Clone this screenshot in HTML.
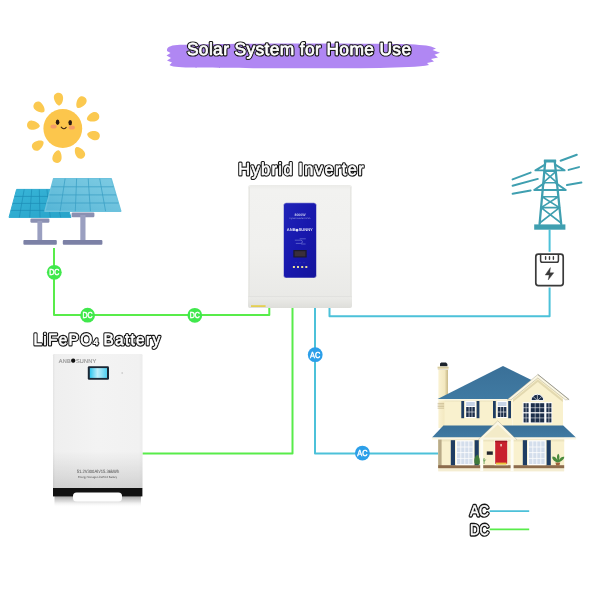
<!DOCTYPE html>
<html lang="en">
<head>
<meta charset="utf-8">
<title>Solar System for Home Use</title>
<style>
html,body{margin:0;padding:0;background:#fff;}
body{width:600px;height:600px;overflow:hidden;position:relative;font-family:"Liberation Sans",sans-serif;}
svg{position:absolute;left:0;top:0;display:block;}
svg text{text-rendering:geometricPrecision;}
.lbl text{font-family:"Liberation Sans",sans-serif;}
.lbl{stroke-linejoin:round;stroke-linecap:round;}
.lbl text,.lbl use{vector-effect:non-scaling-stroke;}
.lbl .o{fill:#161616;stroke:#161616;stroke-width:3px;}
.lbl .i{fill:#fff;stroke:#fff;stroke-width:1px;}
.dc{stroke:#58ec4a;stroke-width:2;fill:none;stroke-linejoin:round;}
.ac{stroke:#4cc1d9;stroke-width:2;fill:none;stroke-linejoin:round;}
.tag{font-family:"Liberation Sans",sans-serif;font-weight:normal;font-size:8.7px;fill:#fff;stroke:#fff;stroke-width:0.45px;text-anchor:middle;}
</style>
</head>
<body>
<svg id="stage" width="600" height="600" viewBox="0 0 600 600">
<rect width="600" height="600" fill="#ffffff"/>
<defs><filter id="nf" x="0" y="0" width="600" height="600" filterUnits="userSpaceOnUse" color-interpolation-filters="sRGB"><feOffset dx="0" dy="0"/></filter></defs>
<g filter="url(#nf)">

<!-- TITLE -->
<g id="title">
<path d="M167 49.5 C167.5 46.5 172 45.2 180 44.8 C230 43.2 330 43 400 44 C415 44.4 426 45.2 431 46.4 L436 48.6 L432.5 50 L440 52.8 L434.5 54.8 L438 57.4 L431 59 L434 61.6 L427 63 L429 65 C420 66.8 400 67.6 380 67.9 C310 68.6 230 68.2 190 67.5 C178 67.2 171 66.8 169.5 65 L172 62.6 L167 60.6 L171 58 L166.5 55.6 L170.5 53 L167 51 Z" fill="#b087f3"/>
<g class="lbl" transform="translate(186.9 55.4) scale(1 1)"><g class="o" style="stroke-width:2.9px"><use href="#t-title"/></g><g class="i" style="stroke-width:0.7px"><text id="t-title" x="0" y="0" font-size="17.4" letter-spacing="0.362">Solar System for Home Use</text></g></g>
</g>
<!-- WIRES -->
<g id="wires">
<path class="dc" d="M54 248 V315 H269.3 V307.6"/>
<path class="dc" d="M292.5 307.6 V453.5 H142.4"/>
<path class="ac" d="M315 307.6 V453.4 H438"/>
<path class="ac" d="M329.5 307.6 V316.3 H549.6 V287.4"/>
<path class="ac" d="M549.6 229.6 V251.8"/>
<circle cx="54.3" cy="272.3" r="7.4" fill="#40e84c"/><text class="tag" x="54.3" y="275.4" textLength="10.2" lengthAdjust="spacingAndGlyphs">DC</text>
<circle cx="87.6" cy="315.2" r="7.4" fill="#40e84c"/><text class="tag" x="87.6" y="318.3" textLength="10.2" lengthAdjust="spacingAndGlyphs">DC</text>
<circle cx="194.8" cy="315.3" r="7.4" fill="#40e84c"/><text class="tag" x="194.8" y="318.4" textLength="10.2" lengthAdjust="spacingAndGlyphs">DC</text>
<circle cx="315.2" cy="354.7" r="7.4" fill="#2c9fe9"/><text class="tag" x="315.2" y="357.8" textLength="10.2" lengthAdjust="spacingAndGlyphs">AC</text>
<circle cx="362.4" cy="453.1" r="7.4" fill="#2c9fe9"/><text class="tag" x="362.4" y="456.2" textLength="10.2" lengthAdjust="spacingAndGlyphs">AC</text>
</g>
<!-- SUN -->
<g id="sun">
<path transform="translate(58.7 99.1) rotate(-98.0)" d="M-6.4 0 C-6.4 -1.8 -2.6 -4.5 1.6 -4.6 C8 -4.7 8 4.7 1.6 4.6 C-2.6 4.5 -6.4 1.8 -6.4 0 Z" fill="#fbc950"/>
<path transform="translate(81.0 102.5) rotate(-55.0)" d="M-6.4 0 C-6.4 -1.8 -2.6 -4.5 1.6 -4.6 C8 -4.7 8 4.7 1.6 4.6 C-2.6 4.5 -6.4 1.8 -6.4 0 Z" fill="#fbc950"/>
<path transform="translate(93.0 117.2) rotate(-20.5)" d="M-6.4 0 C-6.4 -1.8 -2.6 -4.5 1.6 -4.6 C8 -4.7 8 4.7 1.6 4.6 C-2.6 4.5 -6.4 1.8 -6.4 0 Z" fill="#fbc950"/>
<path transform="translate(93.5 135.3) rotate(12.5)" d="M-6.4 0 C-6.4 -1.8 -2.6 -4.5 1.6 -4.6 C8 -4.7 8 4.7 1.6 4.6 C-2.6 4.5 -6.4 1.8 -6.4 0 Z" fill="#fbc950"/>
<path transform="translate(79.5 152.7) rotate(55.5)" d="M-6.4 0 C-6.4 -1.8 -2.6 -4.5 1.6 -4.6 C8 -4.7 8 4.7 1.6 4.6 C-2.6 4.5 -6.4 1.8 -6.4 0 Z" fill="#fbc950"/>
<path transform="translate(57.3 156.6) rotate(101.0)" d="M-6.4 0 C-6.4 -1.8 -2.6 -4.5 1.6 -4.6 C8 -4.7 8 4.7 1.6 4.6 C-2.6 4.5 -6.4 1.8 -6.4 0 Z" fill="#fbc950"/>
<path transform="translate(38.0 145.2) rotate(146.0)" d="M-6.4 0 C-6.4 -1.8 -2.6 -4.5 1.6 -4.6 C8 -4.7 8 4.7 1.6 4.6 C-2.6 4.5 -6.4 1.8 -6.4 0 Z" fill="#fbc950"/>
<path transform="translate(33.4 125.4) rotate(186.0)" d="M-6.4 0 C-6.4 -1.8 -2.6 -4.5 1.6 -4.6 C8 -4.7 8 4.7 1.6 4.6 C-2.6 4.5 -6.4 1.8 -6.4 0 Z" fill="#fbc950"/>
<path transform="translate(39.4 107.4) rotate(222.0)" d="M-6.4 0 C-6.4 -1.8 -2.6 -4.5 1.6 -4.6 C8 -4.7 8 4.7 1.6 4.6 C-2.6 4.5 -6.4 1.8 -6.4 0 Z" fill="#fbc950"/>
<circle cx="62.8" cy="128.5" r="19.4" fill="#fcc64c"/>
<ellipse cx="53.6" cy="126.4" rx="3.1" ry="2" fill="#f59c66"/>
<ellipse cx="71.8" cy="127.4" rx="3.1" ry="2" fill="#f59c66"/>
<ellipse cx="57.6" cy="122.3" rx="1.8" ry="2.7" fill="#2a1a12"/>
<ellipse cx="70.2" cy="122.6" rx="1.8" ry="2.7" fill="#2a1a12"/>
<path d="M61.2 127.2 Q63.6 130.2 66.2 127.4" fill="none" stroke="#3a2412" stroke-width="1.1" stroke-linecap="round"/>
</g>
<!-- PANELS -->
<g id="panels">
<defs>
<linearGradient id="pf" x1="0" y1="1" x2="1" y2="0"><stop offset="0" stop-color="#55b5d6"/><stop offset="0.55" stop-color="#6fc3de"/><stop offset="1" stop-color="#7dcbe3"/></linearGradient>
<linearGradient id="pb" x1="0" y1="0" x2="1" y2="1"><stop offset="0" stop-color="#38b5d8"/><stop offset="1" stop-color="#27a3c9"/></linearGradient>
</defs>
<rect x="30.4" y="218.6" width="19" height="4.2" rx="1.2" fill="#8b90b2"/>
<rect x="37.4" y="221" width="4.8" height="20" fill="#9a9fc0"/>
<rect x="23.4" y="240" width="33.4" height="4.8" rx="1" fill="#7c81a6"/>
<path d="M16.6 189.4 L62.0 189.4 L71.0 217.4 L9.0 217.4 Z" fill="url(#pb)" stroke="#30acd0" stroke-width="1" stroke-linejoin="round"/>
<path d="M24.2 189.4 L19.3 217.4 M31.7 189.4 L29.7 217.4 M39.3 189.4 L40.0 217.4 M46.9 189.4 L50.3 217.4 M54.4 189.4 L60.7 217.4 M14.7 196.4 L64.2 196.4 M12.8 203.4 L66.5 203.4 M10.9 210.4 L68.8 210.4" stroke="#1c8db6" stroke-width="0.7" fill="none"/>
<rect x="71.6" y="212.6" width="22.8" height="4.6" rx="1.2" fill="#8b90b2"/>
<rect x="80.3" y="215" width="5.2" height="26" fill="#9a9fc0"/>
<rect x="62.8" y="240" width="39.6" height="4.8" rx="1" fill="#7c81a6"/>
<path d="M53.6 178.6 L111.2 178.6 L120.8 211.2 L44.9 211.2 Z" fill="url(#pf)" stroke="#6cc2dd" stroke-width="1.4" stroke-linejoin="round"/>
<path d="M65.1 178.6 L60.1 211.2 M76.6 178.6 L75.3 211.2 M88.2 178.6 L90.4 211.2 M99.7 178.6 L105.6 211.2 M51.4 186.8 L113.6 186.8 M49.2 194.9 L116.0 194.9 M47.1 203.0 L118.4 203.0" stroke="#3a9fc4" stroke-width="0.75" fill="none"/>
</g>
<!-- INVERTER -->
<g id="inverter">
<defs>
<linearGradient id="invg" x1="0" y1="0" x2="0" y2="1"><stop offset="0" stop-color="#ebebe8"/><stop offset="0.04" stop-color="#f2f2f0"/><stop offset="0.5" stop-color="#f0f0ee"/><stop offset="1" stop-color="#e8e8e5"/></linearGradient>
<linearGradient id="invb" x1="0" y1="0" x2="0" y2="1"><stop offset="0" stop-color="#ecece9"/><stop offset="1" stop-color="#dededa"/></linearGradient>
<linearGradient id="pnl" x1="0" y1="0" x2="1" y2="1"><stop offset="0" stop-color="#2024b8"/><stop offset="0.5" stop-color="#1818ae"/><stop offset="1" stop-color="#14149c"/></linearGradient>
</defs>
<g class="lbl" transform="translate(238.2 174.9) scale(0.94 1)"><g class="o" style="stroke-width:3px"><use href="#t-inv"/></g><g class="i" style="stroke-width:0.6px"><text id="t-inv" x="0" y="0" font-size="17.4" letter-spacing="1.504" word-spacing="-1.6">Hybrid Inverter</text></g></g>
<rect x="248" y="185" width="104" height="123" rx="2.6" fill="url(#invg)"/><path d="M249.4 187 V306 M350.6 187 V306" stroke="#e6e6e2" stroke-width="1" fill="none"/>
<path d="M248 296.6 H352 V305.6 Q352 308 349.6 308 H250.4 Q248 308 248 305.6 Z" fill="url(#invb)"/>
<path d="M248.3 296.6 H351.7" stroke="#dadad6" stroke-width="0.6"/>
<rect x="251" y="305.2" width="14.6" height="1.8" fill="#e4cf52"/>
<rect x="283.5" y="202.8" width="33" height="75.2" rx="2.8" fill="url(#pnl)" stroke="#f6f6f0" stroke-width="0.5"/>
<text x="300" y="215.8" font-size="3.5" font-weight="bold" fill="#c9cdf0" text-anchor="middle" font-family="Liberation Sans, sans-serif">8000W</text>
<text x="300" y="219.4" font-size="2.2" fill="#aab0e6" text-anchor="middle" font-family="Liberation Sans, sans-serif">Hybrid Inverter 8 KVA</text>
<text x="299.8" y="230.6" font-size="4.1" font-weight="bold" fill="#e4e6f8" text-anchor="middle" font-family="Liberation Sans, sans-serif" textLength="26" lengthAdjust="spacingAndGlyphs">ANB<tspan font-family="DejaVu Sans, sans-serif" font-size="3.6">●</tspan>SUNNY</text>
<path d="M295.2 240.2 h5.6 a1.6 1.6 0 0 1 0 3.2 h-4.6 M300 238.8 h5.4 M301.6 244 h3.6" stroke="#8088dc" stroke-width="0.6" fill="none" stroke-linecap="round"/>
<rect x="293.3" y="250" width="13.4" height="7.6" rx="0.6" fill="#1c1a2e"/>
<rect x="294.6" y="251.2" width="10.8" height="5.2" fill="#3a2f3a"/>
<g fill="#e6dc98"><rect x="292.9" y="266" width="2" height="2"/><rect x="297" y="266" width="2" height="2"/><rect x="301.2" y="266" width="2" height="2"/><rect x="305.3" y="266" width="2" height="2"/></g>
<g fill="#6f78d6"><circle cx="296" cy="262.8" r="0.4"/><circle cx="300" cy="262.8" r="0.4"/><circle cx="304" cy="262.8" r="0.4"/></g>
</g>
<!-- TOWER -->
<g id="tower">
<g stroke="#3f9fb0" fill="none" stroke-linecap="round" stroke-linejoin="round">
<path d="M512.6 179.4 L530.6 172.6 M512.6 185.8 L537.8 178.9 M512.6 193.8 L530.6 190.4 M560.6 160.7 L576.8 154.8 M568.6 169.9 L579 167.1 M567 185 L581.4 182.6" stroke-width="2"/>
<path d="M545.2 162 L539.6 224 M554.8 162 L561.2 224" stroke-width="2.3"/>
<path d="M545 164.6 L535.4 170.4 H564.6 L555.2 164.6" stroke-width="1.9"/>
<path d="M544 183.4 L534.2 190 H565.8 L556.2 183.4" stroke-width="1.9"/>
<path d="M544.4 171.6 L556.9 182.6 M555.7 171.6 L543.4 182.6 M542.1 196.8 L559.5 207.6 M558.3 196.8 L541.1 207.6 M541.1 207.6 L561.1 223.0 M559.5 207.6 L539.7 223.0 M544.4 171.2 H555.7 M543.4 182.8 H556.9 M542.1 196.8 H558.3 M541.1 207.6 H559.5" stroke-width="1.6"/>
</g>
<rect x="534.2" y="224.4" width="31.2" height="5.3" fill="#3f9fb0"/>
<rect x="543.8" y="159.5" width="12.4" height="3" rx="0.5" fill="#3f9fb0"/>
</g>
<!-- METER -->
<g id="meter">
<rect x="535.8" y="254.2" width="27.4" height="31.4" rx="2.6" fill="#fff" stroke="#3a3a3a" stroke-width="1.7"/>
<path d="M540.6 254.4 V260.5 Q540.6 262.3 542.4 262.3 H556.6 Q558.4 262.3 558.4 260.5 V254.4" fill="none" stroke="#3a3a3a" stroke-width="1.5"/>
<path d="M545.6 256.8 V259.2 M549.5 256.8 V259.2 M553.4 256.8 V259.2" stroke="#3a3a3a" stroke-width="1.4" stroke-linecap="round"/>
<path d="M550.4 267.6 L545.2 275 H549.2 L548.2 280 L553.8 272.8 H549.8 Z" fill="#3a3a3a" stroke="#3a3a3a" stroke-width="0.4" stroke-linejoin="round"/>
</g>
<!-- BATTERY -->
<g id="battery">
<defs>
<linearGradient id="batg" x1="0" y1="0" x2="1" y2="0"><stop offset="0" stop-color="#e4e4e4"/><stop offset="0.025" stop-color="#efefef"/><stop offset="0.5" stop-color="#f3f3f3"/><stop offset="0.96" stop-color="#f1f1f1"/><stop offset="1" stop-color="#ebebeb"/></linearGradient>
<linearGradient id="batv" x1="0" y1="0" x2="0" y2="1"><stop offset="0" stop-color="#000" stop-opacity="0"/><stop offset="0.72" stop-color="#000" stop-opacity="0"/><stop offset="1" stop-color="#000" stop-opacity="0.13"/></linearGradient>
<linearGradient id="bats" x1="0" y1="0" x2="0" y2="1"><stop offset="0" stop-color="#8a8a8a" stop-opacity="0.8"/><stop offset="0.5" stop-color="#c8c8c8" stop-opacity="0.6"/><stop offset="1" stop-color="#ffffff" stop-opacity="0"/></linearGradient>
<linearGradient id="scr" x1="0" y1="0" x2="1" y2="0"><stop offset="0" stop-color="#2fc6ee"/><stop offset="0.45" stop-color="#bdeefa"/><stop offset="0.7" stop-color="#8fe0f6"/><stop offset="1" stop-color="#4fd0f0"/></linearGradient>
</defs>
<g class="lbl" transform="translate(33.4 345.2) scale(0.94 1)"><g class="o" style="stroke-width:3px"><use href="#t-bat"/></g><g class="i" style="stroke-width:0.6px"><text id="t-bat" x="0" y="0" font-size="16.4" letter-spacing="1.379" word-spacing="-1.6">LiFePO<tspan font-size="9">4</tspan> Battery</text></g></g>
<rect x="54.5" y="496" width="86.5" height="11" fill="url(#bats)"/>
<rect x="53" y="354" width="89.5" height="134.6" rx="1.2" fill="url(#batg)"/>
<rect x="53" y="354" width="89.5" height="134.6" rx="1.2" fill="url(#batv)"/>
<rect x="53" y="488" width="89.4" height="8.4" fill="#111111"/>
<rect x="73" y="492.4" width="49" height="9.2" rx="3.6" fill="#fdfdfd"/>
<text x="58.8" y="362.5" font-size="5.6" fill="#969696" stroke="#969696" stroke-width="0.15" font-family="Liberation Sans, sans-serif" textLength="37.4" lengthAdjust="spacing">ANB<tspan fill="#111" stroke="none" font-family="DejaVu Sans, sans-serif" font-size="5.6" dy="-0.6">●</tspan><tspan dy="0.6">SUNNY</tspan></text>
<rect x="87.8" y="366.2" width="21.2" height="13.6" rx="1.3" fill="#1b2735"/>
<rect x="89.8" y="368.1" width="17.2" height="9.8" fill="url(#scr)"/>
<circle cx="122.2" cy="373" r="0.9" fill="#cfcfcf"/>
<text x="98" y="472.6" font-size="4.7" fill="#4a4a4a" text-anchor="middle" font-family="Liberation Sans, sans-serif" textLength="42.6" lengthAdjust="spacingAndGlyphs">51.2V300Ah/15.36kWh</text>
<text x="97.6" y="478" font-size="3" fill="#555" text-anchor="middle" font-family="Liberation Sans, sans-serif" textLength="39" lengthAdjust="spacingAndGlyphs">Energy Storage LiFePO4 Battery</text>
</g>
<!-- HOUSE -->
<g id="house">
<defs>
<linearGradient id="hsh" x1="0" y1="0" x2="0" y2="1"><stop offset="0" stop-color="#d9d0a8"/><stop offset="1" stop-color="#f9f1ce"/></linearGradient>
<linearGradient id="chg" x1="0" y1="0" x2="1" y2="0"><stop offset="0" stop-color="#faf2d2"/><stop offset="0.65" stop-color="#f3e8c0"/><stop offset="0.85" stop-color="#d9cb9c"/><stop offset="1" stop-color="#c9ba8a"/></linearGradient>
<linearGradient id="rfg" x1="0" y1="0" x2="0" y2="1"><stop offset="0" stop-color="#3a7098"/><stop offset="1" stop-color="#407aa2"/></linearGradient>
</defs>
<rect x="438.2" y="468" width="126" height="3.4" fill="#f4edd2"/>
<path d="M440 366.4 V363.6 L441.2 362.4 H446 L447.4 364 V366.4 Z" fill="#1b222c"/>
<rect x="438.4" y="370" width="9.6" height="58" fill="url(#chg)"/>
<rect x="437.6" y="366.4" width="11" height="2.6" fill="#f3e9c2"/><path d="M437.6 367.6 H448.6 M437.8 369.2 H448.4" stroke="#b5a67c" stroke-width="0.5"/>
<path d="M437.6 403.4 h6.6 M437.6 405 h6.6 M437.6 406.6 h6.6 M437.6 408.2 h6.6" stroke="#b8a87c" stroke-width="0.6"/>
<rect x="444.5" y="398" width="68" height="28" fill="#f9f1ce"/>
<rect x="444.5" y="399" width="64" height="3.5" fill="url(#hsh)" opacity="0.8"/>
<path d="M437.6 399 L503 366.1 L532 380.2 L509 399 Z" fill="url(#rfg)"/>
<path d="M437.6 399 H509 V400.4 H438.4 Z" fill="#fbf7e4"/>
<path d="M512.6 397 L537.8 377.6 L563 397 V426 H512.6 Z" fill="#f9f1ce"/>
<path d="M513 399.6 L537.8 379.4 L562.8 399.6 V402 L537.8 382 L513 402 Z" fill="#d8cda2" opacity="0.7"/><path d="M507.4 399.6 L537.8 374.6 L568.8 399.6 L565.4 399.8 L537.8 378 L511 399.8 Z" fill="#fbf7e4" stroke="#8d8770" stroke-width="0.35"/><path d="M537.8 374.4 L569.2 399.6" stroke="#5a5a50" stroke-width="0.5" fill="none"/>
<rect x="461.3" y="401" width="2.8" height="17.2" fill="#1f3d63"/><rect x="476.6" y="401" width="2.8" height="17.2" fill="#1f3d63"/><rect x="465.2" y="400.8" width="10.6" height="17.2" fill="#fdfdfd"/><rect x="466.2" y="402" width="8.6" height="4" fill="#c6d3e6"/><rect x="466.2" y="407" width="8.6" height="10" fill="#1c2e4a"/><path d="M469.1 407 v10 M472.0 407 v10 M466.2 412 h8.6" stroke="#fdfdfd" stroke-width="0.6"/>
<rect x="493" y="401" width="2.8" height="17.2" fill="#1f3d63"/><rect x="508.2" y="401" width="2.8" height="17.2" fill="#1f3d63"/><rect x="496.8" y="400.8" width="10.6" height="17.2" fill="#fdfdfd"/><rect x="497.8" y="402" width="8.6" height="4" fill="#c6d3e6"/><rect x="497.8" y="407" width="8.6" height="10" fill="#1c2e4a"/><path d="M500.7 407 v10 M503.6 407 v10 M497.8 412 h8.6" stroke="#fdfdfd" stroke-width="0.6"/>
<rect x="522.6" y="402.2" width="29.6" height="21.2" fill="#fdfdfd"/>
<path d="M531 400.6 A6.4 6.4 0 0 1 543.8 400.6 Z" fill="#1c2e4a" stroke="#fdfdfd" stroke-width="1"/>
<path d="M537.4 400.6 V394.6 M537.4 400.6 L533 396.4 M537.4 400.6 L541.8 396.4" stroke="#fdfdfd" stroke-width="0.6"/>
<rect x="523.6" y="403.2" width="5.0" height="9" fill="#1c2e4a"/>
<rect x="523.6" y="413.4" width="5.0" height="9" fill="#1c2e4a"/>
<rect x="530.8" y="403.2" width="13.4" height="9" fill="#1c2e4a"/>
<rect x="530.8" y="413.4" width="13.4" height="9" fill="#1c2e4a"/>
<rect x="546.4" y="403.2" width="5.0" height="9" fill="#1c2e4a"/>
<rect x="546.4" y="413.4" width="5.0" height="9" fill="#1c2e4a"/>
<path d="M526.1 403 V422.6 M548.9 403 V422.6 M535.2 403 V422.6 M539.7 403 V422.6 M523 407.7 H552 M523 417.9 H552" stroke="#fdfdfd" stroke-width="0.55"/>
<rect x="438.2" y="437" width="126" height="28.6" fill="#f9f1ce"/>
<rect x="438.2" y="439" width="126" height="3.4" fill="url(#hsh)" opacity="0.7"/>
<rect x="438.2" y="438" width="3.4" height="30" fill="#b9ab88"/>
<rect x="438.2" y="465.2" width="126" height="3" fill="#8d6c4c"/>
<rect x="450.8" y="440.2" width="4.2" height="25" fill="#1f3d63"/><rect x="474.6" y="440.2" width="4.2" height="25" fill="#1f3d63"/><rect x="455.8" y="440.2" width="18" height="25" fill="#fdfdfd"/><rect x="457.0" y="441.4" width="15.6" height="22.6" fill="#d4deec"/><path d="M460.8 441 v23 M464.8 441 v23 M468.8 441 v23 M456.8 447 h16 M456.8 452.6 h16 M456.8 458.4 h16" stroke="#fdfdfd" stroke-width="0.8"/>
<rect x="522.8" y="440.2" width="4.2" height="25" fill="#1f3d63"/><rect x="546.6" y="440.2" width="4.2" height="25" fill="#1f3d63"/><rect x="527.8" y="440.2" width="18" height="25" fill="#fdfdfd"/><rect x="529.0" y="441.4" width="15.6" height="22.6" fill="#d4deec"/><path d="M532.8 441 v23 M536.8 441 v23 M540.8 441 v23 M528.8 447 h16 M528.8 452.6 h16 M528.8 458.4 h16" stroke="#fdfdfd" stroke-width="0.8"/>
<rect x="494.4" y="440" width="13.6" height="25.2" fill="#fbf7e4"/>
<rect x="495.2" y="440.8" width="12" height="23" fill="#c8202d"/>
<rect x="495.2" y="440.8" width="12" height="1.4" fill="#9e1622"/>
<rect x="500.2" y="444" width="1.8" height="2.4" fill="#e8b8b0"/>
<rect x="496" y="462.6" width="10.4" height="2" fill="#e8c23c"/>
<rect x="486.8" y="451.4" width="6" height="3.4" fill="#23262e"/>
<path d="M474.6 463 C473.6 459 475.4 456 477.4 454.4 C479.6 457 480.4 460 479.6 464.6 H475.4 Z" fill="#3f7a3a"/>
<path d="M484 464 V458 M484 461 L482.6 458.6 M484 461.6 L485.6 459.6" stroke="#5f9a4c" stroke-width="0.9" fill="none"/>
<path d="M555.4 462.4 H560.2 L559.4 465.4 H556.2 Z" fill="#a0643c"/>
<path d="M557.8 462.6 C553 461 551.6 458 552.6 456.4 C555 456.4 556.6 458 557.4 460 C556.6 457 557 454.6 558.2 453.8 C559.6 455 559.8 457.4 559 460 C560.2 457.6 562.4 456.4 564.2 456.8 C564.4 459 562 461.6 557.8 462.6 Z" fill="#4a8a3c"/>
<path d="M443.4 425.6 H563.2 L576 437.6 H432 Z" fill="url(#rfg)"/>
<path d="M431.6 437.4 H576.4 L576 439.4 H432 Z" fill="#fbf7e4"/>
<path d="M478.4 439.6 L497.8 421 L516.4 439.6 Z" fill="#fbf7e4"/>
<path d="M483.6 437.6 L497.8 424.6 L511.4 437.6 Z" fill="#f3ebc8"/>
<path d="M478 439.8 L497.8 420.8 L517 439.8" fill="none" stroke="#9a9480" stroke-width="0.35"/>
<rect x="480.2" y="439.4" width="3" height="32" fill="#fdfcf4"/>
<rect x="510.6" y="439.4" width="3" height="32" fill="#fdfcf4"/>
</g>
<!-- LEGEND -->
<g id="legend">
<g class="lbl"><g class="o" style="stroke-width:3.3px"><use href="#t-ac"/></g><g class="i" style="stroke-width:0.5px"><text id="t-ac" x="479.4" y="516.3" font-size="15.4" font-weight="normal" text-anchor="middle" textLength="19" lengthAdjust="spacingAndGlyphs">AC</text></g></g>
<path d="M489.6 511.2 H529.2" stroke="#4cc1d9" stroke-width="1.8"/>
<g class="lbl"><g class="o" style="stroke-width:3.3px"><use href="#t-dc"/></g><g class="i" style="stroke-width:0.5px"><text id="t-dc" x="479.4" y="535.4" font-size="15.4" font-weight="normal" text-anchor="middle" textLength="19" lengthAdjust="spacingAndGlyphs">DC</text></g></g>
<path d="M489.6 529.3 H529.2" stroke="#58ec4a" stroke-width="1.8"/>
</g>
<!-- END -->
</g>
</svg>
</body>
</html>
